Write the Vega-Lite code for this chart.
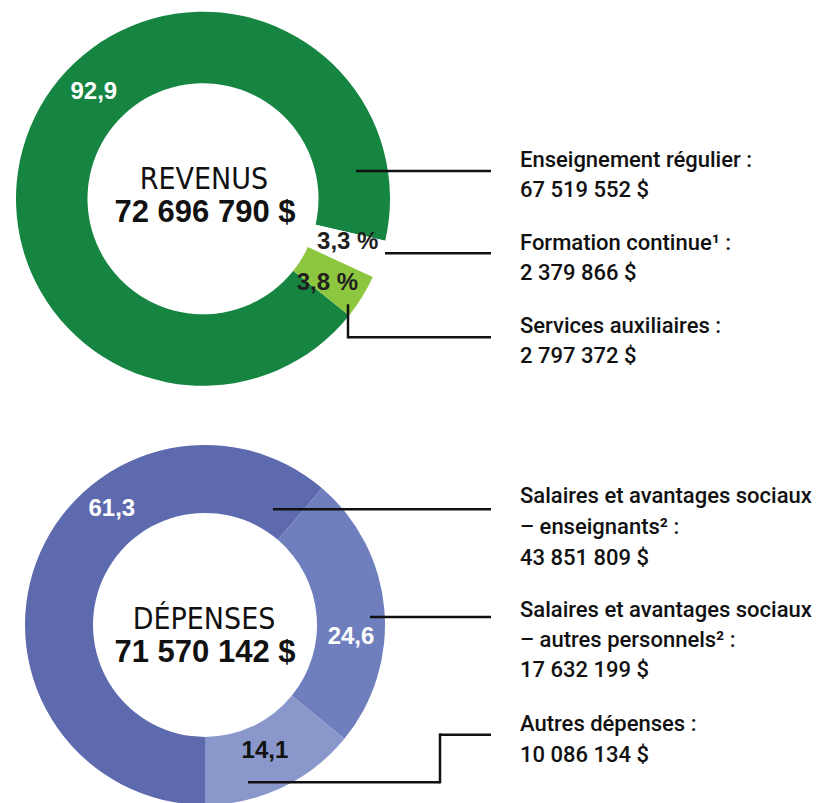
{
  "$schema": "https://vega.github.io/schema/vega-lite/v6.json",
  "width": 823,
  "height": 803,
  "autosize": {"type": "fit", "contains": "padding"},
  "padding": 0,
  "background": "#ffffff",
  "config": {
    "view": {"stroke": null},
    "locale": {"number": {"decimal": ",", "thousands": " ", "grouping": [3], "currency": ["", " $"]}}
  },
  "datasets": {
    "revenus": [
      {"categorie": "Enseignement régulier", "ordre": 1, "montant": 67519552, "etiquette": "92,9", "texte": ["Enseignement régulier :", "67 519 552 $"]},
      {"categorie": "Formation continue", "ordre": 2, "montant": 2379866, "etiquette": "3,3 %", "texte": ["Formation continue¹ :", "2 379 866 $"]},
      {"categorie": "Services auxiliaires", "ordre": 3, "montant": 2797372, "etiquette": "3,8 %", "texte": ["Services auxiliaires :", "2 797 372 $"]}
    ],
    "depenses": [
      {"categorie": "Salaires – enseignants", "ordre": 1, "montant": 43851809, "etiquette": "61,3", "texte": ["Salaires et avantages sociaux", "– enseignants² :", "43 851 809 $"]},
      {"categorie": "Salaires – autres personnels", "ordre": 2, "montant": 17632199, "etiquette": "24,6", "texte": ["Salaires et avantages sociaux", "– autres personnels² :", "17 632 199 $"]},
      {"categorie": "Autres dépenses", "ordre": 3, "montant": 10086134, "etiquette": "14,1", "texte": ["Autres dépenses :", "10 086 134 $"]}
    ]
  },
  "resolve": {"scale": {"theta": "independent", "color": "independent"}},
  "layer": [
    {
      "data": {"name": "revenus"},
      "mark": {"type": "arc", "radius": 187, "radius2": 115.5},
      "encoding": {
        "x": {"datum": 203, "type": "quantitative", "scale": {"domain": [0, 823], "nice": false}, "axis": null},
        "y": {"datum": 201, "type": "quantitative", "scale": {"domain": [0, 803], "nice": false, "reverse": true}, "axis": null},
        "theta": {"field": "montant", "type": "quantitative", "stack": true, "scale": {"range": [2.2445, 8.5277]}},
        "order": {"field": "ordre", "type": "quantitative"},
        "color": {"field": "categorie", "type": "nominal", "scale": {"domain": ["Enseignement régulier", "Formation continue", "Services auxiliaires"], "range": ["#168542", "#ffffff", "#8dc63f"]}, "legend": null}
      }
    },
    {
      "data": {"name": "revenus"},
      "mark": {"type": "text", "radius": 153, "thetaOffset": 0.326, "font": "Liberation Sans", "fontWeight": "bold", "fontSize": 24, "color": "#ffffff", "align": "center", "baseline": "middle"},
      "encoding": {
        "x": {"datum": 203, "type": "quantitative", "scale": {"domain": [0, 823], "nice": false}, "axis": null},
        "y": {"datum": 201, "type": "quantitative", "scale": {"domain": [0, 803], "nice": false, "reverse": true}, "axis": null},
        "theta": {"field": "montant", "type": "quantitative", "stack": true, "scale": {"range": [2.2445, 8.5277]}},
        "order": {"field": "ordre", "type": "quantitative"},
        "text": {"condition": {"test": "datum.categorie === 'Enseignement régulier'", "field": "etiquette"}, "value": ""}
      }
    },
    {
      "data": {"name": "revenus"},
      "mark": {"type": "text", "radius": 151, "thetaOffset": -0.041, "font": "Liberation Sans", "fontWeight": "bold", "fontSize": 24, "color": "#231f20", "align": "center", "baseline": "middle"},
      "encoding": {
        "x": {"datum": 203, "type": "quantitative", "scale": {"domain": [0, 823], "nice": false}, "axis": null},
        "y": {"datum": 201, "type": "quantitative", "scale": {"domain": [0, 803], "nice": false, "reverse": true}, "axis": null},
        "theta": {"field": "montant", "type": "quantitative", "stack": true, "scale": {"range": [2.2445, 8.5277]}},
        "order": {"field": "ordre", "type": "quantitative"},
        "text": {"condition": {"test": "datum.categorie === 'Formation continue'", "field": "etiquette"}, "value": ""}
      }
    },
    {
      "data": {"name": "revenus"},
      "mark": {"type": "text", "radius": 150, "thetaOffset": 0.04, "font": "Liberation Sans", "fontWeight": "bold", "fontSize": 24, "color": "#231f20", "align": "center", "baseline": "middle"},
      "encoding": {
        "x": {"datum": 203, "type": "quantitative", "scale": {"domain": [0, 823], "nice": false}, "axis": null},
        "y": {"datum": 201, "type": "quantitative", "scale": {"domain": [0, 803], "nice": false, "reverse": true}, "axis": null},
        "theta": {"field": "montant", "type": "quantitative", "stack": true, "scale": {"range": [2.2445, 8.5277]}},
        "order": {"field": "ordre", "type": "quantitative"},
        "text": {"condition": {"test": "datum.categorie === 'Services auxiliaires'", "field": "etiquette"}, "value": ""}
      }
    },
    {
      "data": {"name": "revenus"},
      "transform": [{"aggregate": [{"op": "sum", "field": "montant", "as": "total"}]}],
      "mark": {"type": "text", "text": "REVENUS", "font": "'Liberation Sans Narrow', 'DejaVu Sans Condensed', 'Roboto Condensed', 'Open Sans Condensed', sans-serif", "fontSize": 30, "color": "#111111", "align": "center", "baseline": "alphabetic"},
      "encoding": {
        "x": {"datum": 204, "type": "quantitative", "scale": {"domain": [0, 823], "nice": false}, "axis": null},
        "y": {"datum": 191, "type": "quantitative", "scale": {"domain": [0, 803], "nice": false, "reverse": true}, "axis": null}
      }
    },
    {
      "data": {"name": "revenus"},
      "transform": [{"aggregate": [{"op": "sum", "field": "montant", "as": "total"}]}],
      "mark": {"type": "text", "font": "Liberation Sans", "fontWeight": "bold", "fontSize": 31, "color": "#111111", "align": "center", "baseline": "alphabetic"},
      "encoding": {
        "x": {"datum": 205, "type": "quantitative", "scale": {"domain": [0, 823], "nice": false}, "axis": null},
        "y": {"datum": 225, "type": "quantitative", "scale": {"domain": [0, 803], "nice": false, "reverse": true}, "axis": null},
        "text": {"field": "total", "type": "quantitative", "format": "$,.0f"}
      }
    },
    {
      "data": {"name": "revenus"},
      "transform": [{"filter": "datum.categorie === 'Enseignement régulier'"}],
      "mark": {"type": "text", "font": "Roboto", "fontWeight": 500, "fontSize": 22, "lineHeight": 29.5, "color": "#111111", "align": "left", "baseline": "alphabetic"},
      "encoding": {
        "x": {"datum": 520, "type": "quantitative", "scale": {"domain": [0, 823], "nice": false}, "axis": null},
        "y": {"datum": 169, "type": "quantitative", "scale": {"domain": [0, 803], "nice": false, "reverse": true}, "axis": null},
        "text": {"field": "texte"}
      }
    },
    {
      "data": {"name": "revenus"},
      "transform": [{"filter": "datum.categorie === 'Formation continue'"}],
      "mark": {"type": "text", "font": "Roboto", "fontWeight": 500, "fontSize": 22, "lineHeight": 30, "color": "#111111", "align": "left", "baseline": "alphabetic"},
      "encoding": {
        "x": {"datum": 520, "type": "quantitative", "scale": {"domain": [0, 823], "nice": false}, "axis": null},
        "y": {"datum": 253, "type": "quantitative", "scale": {"domain": [0, 803], "nice": false, "reverse": true}, "axis": null},
        "text": {"field": "texte"}
      }
    },
    {
      "data": {"name": "revenus"},
      "transform": [{"filter": "datum.categorie === 'Services auxiliaires'"}],
      "mark": {"type": "text", "font": "Roboto", "fontWeight": 500, "fontSize": 22, "lineHeight": 30, "color": "#111111", "align": "left", "baseline": "alphabetic"},
      "encoding": {
        "x": {"datum": 520, "type": "quantitative", "scale": {"domain": [0, 823], "nice": false}, "axis": null},
        "y": {"datum": 337, "type": "quantitative", "scale": {"domain": [0, 803], "nice": false, "reverse": true}, "axis": null},
        "text": {"field": "texte"}
      }
    },
    {
      "data": {"name": "revenus"},
      "transform": [{"filter": "datum.categorie === 'Enseignement régulier'"}],
      "mark": {"type": "rule", "color": "#111111", "strokeWidth": 2.5},
      "encoding": {
        "x": {"datum": 356, "type": "quantitative", "scale": {"domain": [0, 823], "nice": false}, "axis": null},
        "x2": {"datum": 491},
        "y": {"datum": 173, "type": "quantitative", "scale": {"domain": [0, 803], "nice": false, "reverse": true}, "axis": null}
      }
    },
    {
      "data": {"name": "revenus"},
      "transform": [{"filter": "datum.categorie === 'Formation continue'"}],
      "mark": {"type": "rule", "color": "#111111", "strokeWidth": 2.5},
      "encoding": {
        "x": {"datum": 385, "type": "quantitative", "scale": {"domain": [0, 823], "nice": false}, "axis": null},
        "x2": {"datum": 491},
        "y": {"datum": 256, "type": "quantitative", "scale": {"domain": [0, 803], "nice": false, "reverse": true}, "axis": null}
      }
    },
    {
      "data": {"name": "revenus"},
      "transform": [{"filter": "datum.categorie === 'Services auxiliaires'"}],
      "mark": {"type": "rule", "color": "#111111", "strokeWidth": 2.5, "strokeCap": "square"},
      "encoding": {
        "x": {"datum": 348, "type": "quantitative", "scale": {"domain": [0, 823], "nice": false}, "axis": null},
        "y": {"datum": 309, "type": "quantitative", "scale": {"domain": [0, 803], "nice": false, "reverse": true}, "axis": null},
        "y2": {"datum": 341}
      }
    },
    {
      "data": {"name": "revenus"},
      "transform": [{"filter": "datum.categorie === 'Services auxiliaires'"}],
      "mark": {"type": "rule", "color": "#111111", "strokeWidth": 2.5},
      "encoding": {
        "x": {"datum": 348, "type": "quantitative", "scale": {"domain": [0, 823], "nice": false}, "axis": null},
        "x2": {"datum": 491},
        "y": {"datum": 341, "type": "quantitative", "scale": {"domain": [0, 803], "nice": false, "reverse": true}, "axis": null}
      }
    },
    {
      "data": {"name": "depenses"},
      "mark": {"type": "arc", "radius": 180, "radius2": 112},
      "encoding": {
        "x": {"datum": 205, "type": "quantitative", "scale": {"domain": [0, 823], "nice": false}, "axis": null},
        "y": {"datum": 632, "type": "quantitative", "scale": {"domain": [0, 803], "nice": false, "reverse": true}, "axis": null},
        "theta": {"field": "montant", "type": "quantitative", "stack": true, "scale": {"range": [3.14159, 9.42478]}},
        "order": {"field": "ordre", "type": "quantitative"},
        "color": {"field": "categorie", "type": "nominal", "scale": {"domain": ["Salaires – enseignants", "Salaires – autres personnels", "Autres dépenses"], "range": ["#5e6aae", "#6f7ebd", "#8a97cb"]}, "legend": null}
      }
    },
    {
      "data": {"name": "depenses"},
      "mark": {"type": "text", "radius": 149, "thetaOffset": 0.541, "font": "Liberation Sans", "fontWeight": "bold", "fontSize": 24, "color": "#ffffff", "align": "center", "baseline": "middle"},
      "encoding": {
        "x": {"datum": 205, "type": "quantitative", "scale": {"domain": [0, 823], "nice": false}, "axis": null},
        "y": {"datum": 632, "type": "quantitative", "scale": {"domain": [0, 803], "nice": false, "reverse": true}, "axis": null},
        "theta": {"field": "montant", "type": "quantitative", "stack": true, "scale": {"range": [3.14159, 9.42478]}},
        "order": {"field": "ordre", "type": "quantitative"},
        "text": {"condition": {"test": "datum.categorie === 'Salaires – enseignants'", "field": "etiquette"}, "value": ""}
      }
    },
    {
      "data": {"name": "depenses"},
      "mark": {"type": "text", "radius": 146.5, "thetaOffset": 0.171, "font": "Liberation Sans", "fontWeight": "bold", "fontSize": 24, "color": "#ffffff", "align": "center", "baseline": "middle"},
      "encoding": {
        "x": {"datum": 205, "type": "quantitative", "scale": {"domain": [0, 823], "nice": false}, "axis": null},
        "y": {"datum": 632, "type": "quantitative", "scale": {"domain": [0, 803], "nice": false, "reverse": true}, "axis": null},
        "theta": {"field": "montant", "type": "quantitative", "stack": true, "scale": {"range": [3.14159, 9.42478]}},
        "order": {"field": "ordre", "type": "quantitative"},
        "text": {"condition": {"test": "datum.categorie === 'Salaires – autres personnels'", "field": "etiquette"}, "value": ""}
      }
    },
    {
      "data": {"name": "depenses"},
      "mark": {"type": "text", "radius": 140, "font": "Liberation Sans", "fontWeight": "bold", "fontSize": 24, "color": "#111111", "align": "center", "baseline": "middle"},
      "encoding": {
        "x": {"datum": 205, "type": "quantitative", "scale": {"domain": [0, 823], "nice": false}, "axis": null},
        "y": {"datum": 632, "type": "quantitative", "scale": {"domain": [0, 803], "nice": false, "reverse": true}, "axis": null},
        "theta": {"field": "montant", "type": "quantitative", "stack": true, "scale": {"range": [3.14159, 9.42478]}},
        "order": {"field": "ordre", "type": "quantitative"},
        "text": {"condition": {"test": "datum.categorie === 'Autres dépenses'", "field": "etiquette"}, "value": ""}
      }
    },
    {
      "data": {"name": "depenses"},
      "transform": [{"aggregate": [{"op": "sum", "field": "montant", "as": "total"}]}],
      "mark": {"type": "text", "text": "DÉPENSES", "font": "'Liberation Sans Narrow', 'DejaVu Sans Condensed', 'Roboto Condensed', 'Open Sans Condensed', sans-serif", "fontSize": 30, "color": "#111111", "align": "center", "baseline": "alphabetic"},
      "encoding": {
        "x": {"datum": 204, "type": "quantitative", "scale": {"domain": [0, 823], "nice": false}, "axis": null},
        "y": {"datum": 636, "type": "quantitative", "scale": {"domain": [0, 803], "nice": false, "reverse": true}, "axis": null}
      }
    },
    {
      "data": {"name": "depenses"},
      "transform": [{"aggregate": [{"op": "sum", "field": "montant", "as": "total"}]}],
      "mark": {"type": "text", "font": "Liberation Sans", "fontWeight": "bold", "fontSize": 31, "color": "#111111", "align": "center", "baseline": "alphabetic"},
      "encoding": {
        "x": {"datum": 205, "type": "quantitative", "scale": {"domain": [0, 823], "nice": false}, "axis": null},
        "y": {"datum": 669, "type": "quantitative", "scale": {"domain": [0, 803], "nice": false, "reverse": true}, "axis": null},
        "text": {"field": "total", "type": "quantitative", "format": "$,.0f"}
      }
    },
    {
      "data": {"name": "depenses"},
      "transform": [{"filter": "datum.categorie === 'Salaires – enseignants'"}],
      "mark": {"type": "text", "font": "Roboto", "fontWeight": 500, "fontSize": 22, "lineHeight": 31, "color": "#111111", "align": "left", "baseline": "alphabetic"},
      "encoding": {
        "x": {"datum": 520, "type": "quantitative", "scale": {"domain": [0, 823], "nice": false}, "axis": null},
        "y": {"datum": 509, "type": "quantitative", "scale": {"domain": [0, 803], "nice": false, "reverse": true}, "axis": null},
        "text": {"field": "texte"}
      }
    },
    {
      "data": {"name": "depenses"},
      "transform": [{"filter": "datum.categorie === 'Salaires – autres personnels'"}],
      "mark": {"type": "text", "font": "Roboto", "fontWeight": 500, "fontSize": 22, "lineHeight": 30, "color": "#111111", "align": "left", "baseline": "alphabetic"},
      "encoding": {
        "x": {"datum": 520, "type": "quantitative", "scale": {"domain": [0, 823], "nice": false}, "axis": null},
        "y": {"datum": 624, "type": "quantitative", "scale": {"domain": [0, 803], "nice": false, "reverse": true}, "axis": null},
        "text": {"field": "texte"}
      }
    },
    {
      "data": {"name": "depenses"},
      "transform": [{"filter": "datum.categorie === 'Autres dépenses'"}],
      "mark": {"type": "text", "font": "Roboto", "fontWeight": 500, "fontSize": 22, "lineHeight": 31, "color": "#111111", "align": "left", "baseline": "alphabetic"},
      "encoding": {
        "x": {"datum": 520, "type": "quantitative", "scale": {"domain": [0, 823], "nice": false}, "axis": null},
        "y": {"datum": 739, "type": "quantitative", "scale": {"domain": [0, 803], "nice": false, "reverse": true}, "axis": null},
        "text": {"field": "texte"}
      }
    },
    {
      "data": {"name": "depenses"},
      "transform": [{"filter": "datum.categorie === 'Salaires – enseignants'"}],
      "mark": {"type": "rule", "color": "#111111", "strokeWidth": 2.5},
      "encoding": {
        "x": {"datum": 273, "type": "quantitative", "scale": {"domain": [0, 823], "nice": false}, "axis": null},
        "x2": {"datum": 491},
        "y": {"datum": 515, "type": "quantitative", "scale": {"domain": [0, 803], "nice": false, "reverse": true}, "axis": null}
      }
    },
    {
      "data": {"name": "depenses"},
      "transform": [{"filter": "datum.categorie === 'Salaires – autres personnels'"}],
      "mark": {"type": "rule", "color": "#111111", "strokeWidth": 2.5},
      "encoding": {
        "x": {"datum": 370, "type": "quantitative", "scale": {"domain": [0, 823], "nice": false}, "axis": null},
        "x2": {"datum": 491},
        "y": {"datum": 624, "type": "quantitative", "scale": {"domain": [0, 803], "nice": false, "reverse": true}, "axis": null}
      }
    },
    {
      "data": {"name": "depenses"},
      "transform": [{"filter": "datum.categorie === 'Autres dépenses'"}],
      "mark": {"type": "rule", "color": "#111111", "strokeWidth": 2.5},
      "encoding": {
        "x": {"datum": 248, "type": "quantitative", "scale": {"domain": [0, 823], "nice": false}, "axis": null},
        "x2": {"datum": 440},
        "y": {"datum": 791, "type": "quantitative", "scale": {"domain": [0, 803], "nice": false, "reverse": true}, "axis": null}
      }
    },
    {
      "data": {"name": "depenses"},
      "transform": [{"filter": "datum.categorie === 'Autres dépenses'"}],
      "mark": {"type": "rule", "color": "#111111", "strokeWidth": 2.5, "strokeCap": "square"},
      "encoding": {
        "x": {"datum": 440, "type": "quantitative", "scale": {"domain": [0, 823], "nice": false}, "axis": null},
        "y": {"datum": 743, "type": "quantitative", "scale": {"domain": [0, 803], "nice": false, "reverse": true}, "axis": null},
        "y2": {"datum": 791}
      }
    },
    {
      "data": {"name": "depenses"},
      "transform": [{"filter": "datum.categorie === 'Autres dépenses'"}],
      "mark": {"type": "rule", "color": "#111111", "strokeWidth": 2.5},
      "encoding": {
        "x": {"datum": 440, "type": "quantitative", "scale": {"domain": [0, 823], "nice": false}, "axis": null},
        "x2": {"datum": 491},
        "y": {"datum": 743, "type": "quantitative", "scale": {"domain": [0, 803], "nice": false, "reverse": true}, "axis": null}
      }
    }
  ]
}
